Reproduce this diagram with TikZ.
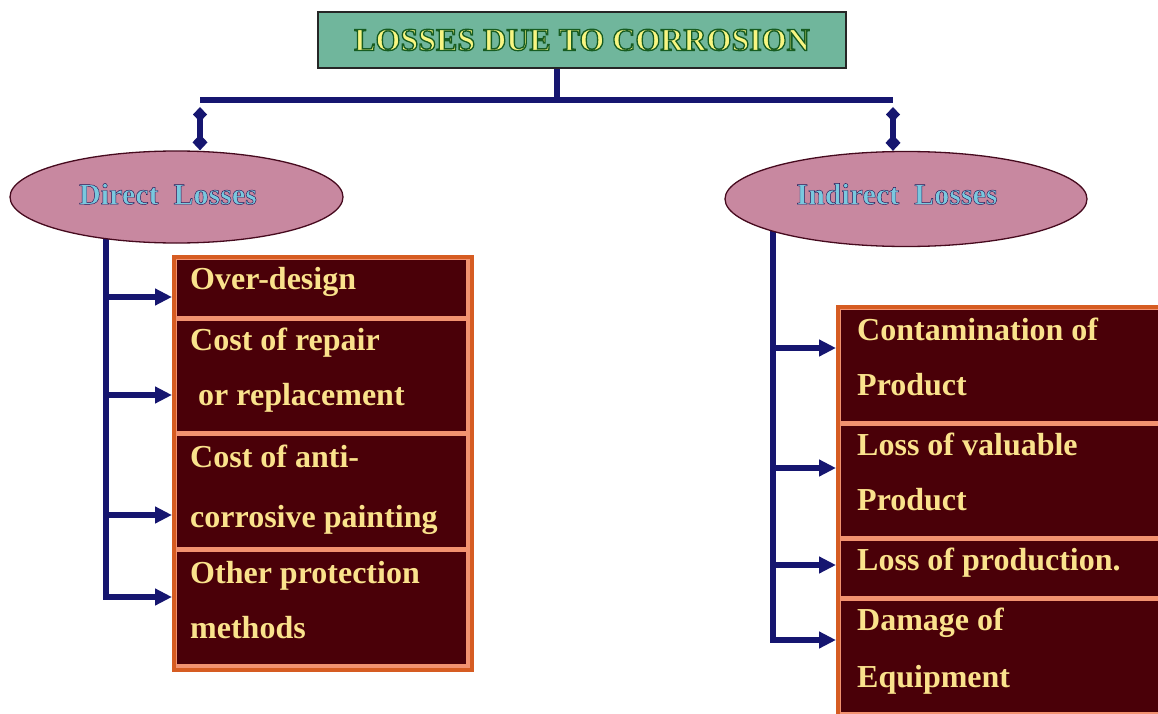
\documentclass[tikz,border=0pt]{standalone}
\usepackage{fontspec}
\setmainfont{Liberation Serif}
\usetikzlibrary{arrows.meta,shapes.geometric,backgrounds}
\definecolor{navy}{RGB}{22,22,112}
\definecolor{boxfill}{RGB}{74,0,8}
\definecolor{boxborder}{RGB}{214,92,34}
\definecolor{sep}{RGB}{242,146,112}
\definecolor{itemtext}{RGB}{250,226,140}
\definecolor{titlefill}{RGB}{112,182,156}
\definecolor{tyellow}{RGB}{248,246,130}
\definecolor{ellfill}{RGB}{200,136,160}
\definecolor{elldraw}{RGB}{70,10,30}
\definecolor{eblue}{RGB}{122,200,222}
% text filled in one colour and outlined in another (pdf text render mode 2)
\newcommand\strokedtext[4]{{\color{#1}\special{pdf:literal direct #2 RG #3 w 2 Tr}#4\special{pdf:literal direct 0 Tr}}}
\begin{document}
\begin{tikzpicture}[x=1pt,y=-1pt,
  conn/.style={draw=navy,line width=5.2pt},
  arr/.style={conn,-{Triangle[length=17pt,width=16pt]}},
  drop/.style={conn,{Diamond[length=15pt,width=14pt]}-{Diamond[length=16pt,width=15pt]}},
  outerbox/.style={rectangle,fill=sep,draw=boxborder,line width=3.5pt,anchor=north west,inner sep=0pt},
  cell/.style={rectangle,fill=boxfill,draw=sep,line width=1.2pt,anchor=north west,inner sep=0pt},
  itemtxt/.style={text=itemtext,font=\fontsize{32}{36}\selectfont\bfseries,anchor=base west,inner sep=0pt},
  oval/.style={ellipse,fill=ellfill,draw=elldraw,line width=1.3pt,inner sep=0pt},
  ovaltxt/.style={font=\fontsize{30}{36}\selectfont\bfseries,inner sep=0pt},
  titlebox/.style={rectangle,fill=titlefill,draw=black!85,line width=1.6pt,inner sep=0pt,
     minimum width=528pt,minimum height=56pt,font=\fontsize{32}{36}\selectfont\bfseries}]
\clip (0,0) rectangle (1158,714);
\begin{pgfonlayer}{background}
\fill[white] (0,0) rectangle (1158,714);
\end{pgfonlayer}

% title
\node[titlebox] (title) at (582,40) {\strokedtext{tyellow}{0.09 0.36 0.13}{1.3}{LOSSES DUE TO CORROSION}};

% ellipses
\node[oval,minimum width=333pt,minimum height=92pt] (direct) at (176.5,197) {};
\node[ovaltxt] (directtxt) at (168,194) {\strokedtext{eblue}{0.16 0.07 0.32}{0.45}{Direct\ \ Losses}};
\node[oval,minimum width=362pt,minimum height=95pt] (indirect) at (906,199) {};
\node[ovaltxt] (indirecttxt) at (897,194) {\strokedtext{eblue}{0.16 0.07 0.32}{0.45}{Indirect\ \ Losses}};

% left box
\node[outerbox,minimum width=298pt,minimum height=413pt] (lbox) at (172,255) {};
\node[cell,minimum width=290pt,minimum height=57pt] (l1) at (176,259) {};
\node[cell,minimum width=290pt,minimum height=111pt] (l2) at (176,320) {};
\node[cell,minimum width=290pt,minimum height=112pt] (l3) at (176,435) {};
\node[cell,minimum width=290pt,minimum height=113pt] (l4) at (176,551) {};
\node[itemtxt] (l1a) at (190,289) {Over-design};
\node[itemtxt] (l2a) at (190,350) {Cost of repair};
\node[itemtxt] (l2b) at (190,405) {\ or replacement};
\node[itemtxt] (l3a) at (190,467) {Cost of anti-};
\node[itemtxt] (l3b) at (190,527) {corrosive painting};
\node[itemtxt] (l4a) at (190,583) {Other protection};
\node[itemtxt] (l4b) at (190,638) {methods};

% right box
\node[outerbox,minimum width=340pt,minimum height=420pt] (rbox) at (836,305) {};
\node[cell,minimum width=330pt,minimum height=112pt] (r1) at (840,309) {};
\node[cell,minimum width=330pt,minimum height=111pt] (r2) at (840,425) {};
\node[cell,minimum width=330pt,minimum height=56pt] (r3) at (840,540) {};
\node[cell,minimum width=330pt,minimum height=112pt] (r4) at (840,600) {};
\node[itemtxt] (r1a) at (857,340) {Contamination of};
\node[itemtxt] (r1b) at (857,395) {Product};
\node[itemtxt] (r2a) at (857,455) {Loss of valuable};
\node[itemtxt] (r2b) at (857,510) {Product};
\node[itemtxt] (r3a) at (857,570) {Loss of production.};
\node[itemtxt] (r4a) at (857,630) {Damage of};
\node[itemtxt] (r4b) at (857,687) {Equipment};

% connectors
\begin{pgfonlayer}{background}
\coordinate (stub) at (557,68);
\coordinate (barL) at (200,100);
\coordinate (barR) at (893,100);
\draw[conn] (stub) -- (stub |- barL);
\draw[conn,line cap=butt] (barL) -- (barR);
\draw[drop] ([yshift=-7pt]barL) -- (barL |- direct.north);
\draw[drop] ([yshift=-7pt]barR) -- (barR |- indirect.north);
% left trunk
\coordinate (Ltop) at (106,220);
\coordinate (Lbot) at (106,597);
\draw[arr] (Ltop) -- (Lbot) -- (lbox.west |- Lbot);
\draw[arr] (106,297) -- (lbox.west |- 0,297);
\draw[arr] (106,395) -- (lbox.west |- 0,395);
\draw[arr] (106,515) -- (lbox.west |- 0,515);
% right trunk
\coordinate (Rtop) at (773,220);
\coordinate (Rbot) at (773,640);
\draw[arr] (Rtop) -- (Rbot) -- (rbox.west |- Rbot);
\draw[arr] (773,348) -- (rbox.west |- 0,348);
\draw[arr] (773,468) -- (rbox.west |- 0,468);
\draw[arr] (773,565) -- (rbox.west |- 0,565);
\end{pgfonlayer}
\end{tikzpicture}
\end{document}
